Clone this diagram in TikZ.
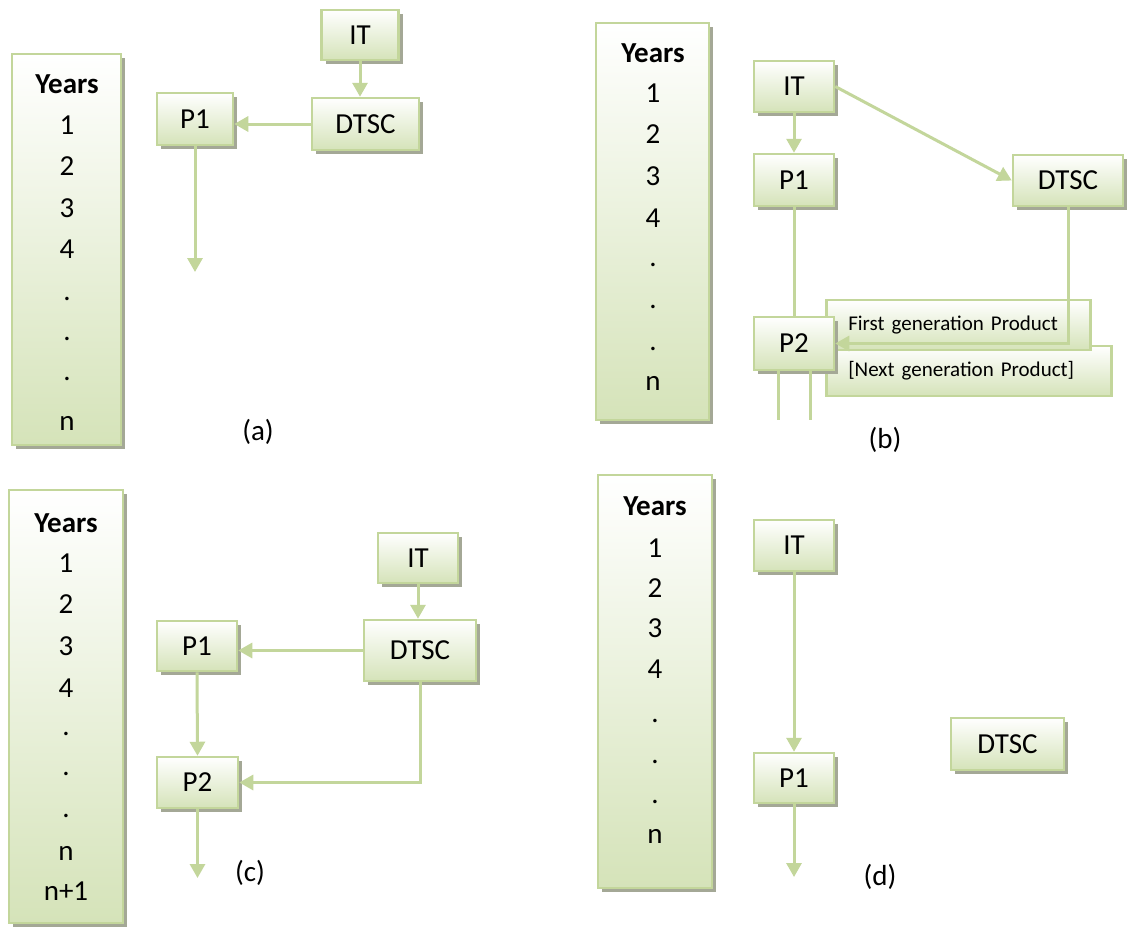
\documentclass[tikz,border=0pt]{standalone}
\usepackage{fontspec}
\setmainfont{Carlito}
\usetikzlibrary{arrows.meta,shadows,calc}
\definecolor{edgegreen}{HTML}{C3D69B}
\definecolor{fillgreen}{HTML}{D5E3B9}
\definecolor{shadowgray}{HTML}{A4A896}
\newcommand\labfont{\fontsize{29}{34}\selectfont}
\newcommand\notefont{\fontsize{21}{25}\selectfont}
\tikzset{
  box/.style={draw=edgegreen, line width=2.5pt, top color=white, bottom color=fillgreen,
    general shadow={fill=shadowgray, shadow xshift=4pt, shadow yshift=-4pt},
    inner sep=0pt, font=\labfont},
  notebox/.style={draw=edgegreen, line width=2.5pt, top color=white, bottom color=fillgreen,
    anchor=west, inner xsep=22pt, inner ysep=0pt, minimum height=50pt, align=left, font=\notefont},
  link/.style={draw=edgegreen, line width=3pt},
  arrow/.style={link, -{Triangle[width=15pt,length=14pt]}},
  yr/.style={anchor=base, font=\labfont, inner sep=0pt},
  panellabel/.style={font=\labfont, inner sep=0pt},
}
\begin{document}
\begin{tikzpicture}[x=1pt,y=-1pt]
\useasboundingbox[fill=white] (0,0) rectangle (1131,926);

% ---------- (a) ----------
\node[box, minimum width=109pt, minimum height=391pt] (a-years) at (66.5,249.5) {};
\node[yr] (a-head) at (67,93) {\bfseries Years};
\foreach \t/\yy [count=\i] in {1/134,2/175,3/217,4/258,./300,./340,./380,n/430}
  \node[yr] (a-row\i) at (67,\yy) {\t};
\node[box, minimum width=77pt, minimum height=50pt] (a-it) at (360,35) {IT};
\node[box, minimum width=107pt, minimum height=52pt] (a-dtsc) at (365.5,124) {DTSC};
\node[box, minimum width=76pt, minimum height=52pt] (a-p1) at (195,119) {P1};
\coordinate (a-end) at (195,272);
\draw[arrow] (a-it.south) -- (a-it.south |- a-dtsc.north);
\draw[arrow] (a-dtsc.west) -- (a-dtsc.west -| a-p1.east);
\draw[arrow] (a-p1.south) -- (a-end);
\node[panellabel] (a-cap) at (258,432) {(a)};

% ---------- (b) ----------
\node[box, minimum width=113pt, minimum height=397pt] (b-years) at (652.5,221.5) {};
\node[yr] (b-head) at (653,62) {\bfseries Years};
\foreach \t/\yy [count=\i] in {1/102,2/143,3/185,4/227,./266,./308,./350,n/390}
  \node[yr] (b-row\i) at (653,\yy) {\t};
\node[box, minimum width=80pt, minimum height=51pt] (b-it) at (794,86.5) {IT};
\node[box, minimum width=80pt, minimum height=52pt] (b-p1) at (794,180) {P1};
\node[box, minimum width=110pt, minimum height=51pt] (b-dtsc) at (1068,180.5) {DTSC};
\node[notebox, text width=241pt] (b-next) at (825,371) {[Next generation Product]};
\node[notebox, text width=220pt] (b-first) at (825,325) {First generation Product};
\node[box, minimum width=80pt, minimum height=53pt] (b-p2) at (794,343.5) {P2};
\coordinate (b-left) at (778,420);
\coordinate (b-right) at (810,420);
\draw[arrow] (b-it.south) -- (b-p1.north);
\draw[arrow] (b-it.east) -- (b-dtsc.west);
\draw[link] (b-p1.south) -- (b-p2.north);
\draw[arrow] (b-dtsc.south) |- (b-p2.east);
\draw[link] (b-p2.south -| b-left) -- (b-left);
\draw[link] (b-p2.south -| b-right) -- (b-right);
\node[panellabel] (b-cap) at (885,440) {(b)};

% ---------- (c) ----------
\node[box, minimum width=114pt, minimum height=433pt] (c-years) at (66,706.5) {};
\node[yr] (c-head) at (66,532) {\bfseries Years};
\foreach \t/\yy [count=\i] in {1/572,2/613,3/655,4/697,./735,./775,./817,n/860,n+1/900}
  \node[yr] (c-row\i) at (66,\yy) {\t};
\node[box, minimum width=80pt, minimum height=50pt] (c-it) at (418,558) {IT};
\node[box, minimum width=112pt, minimum height=61pt] (c-dtsc) at (420,650.5) {DTSC};
\node[box, minimum width=80pt, minimum height=50pt] (c-p1) at (197,646) {P1};
\node[box, minimum width=81pt, minimum height=51pt] (c-p2) at (197.5,782.5) {P2};
\coordinate (c-end) at (197.5,878);
\draw[arrow] (c-it.south) -- (c-it.south |- c-dtsc.north);
\draw[arrow] (c-dtsc.west) -- (c-dtsc.west -| c-p1.east);
\draw[arrow] (c-p1.south) -- (c-p2.north);
\draw[arrow] (c-dtsc.south) |- (c-p2.east);
\draw[arrow] (c-p2.south) -- (c-end);
\node[panellabel] (c-cap) at (250,873) {(c)};

% ---------- (d) ----------
\node[box, minimum width=114pt, minimum height=413pt] (d-years) at (655,681.5) {};
\node[yr] (d-head) at (655,515) {\bfseries Years};
\foreach \t/\yy [count=\i] in {1/557,2/597,3/637,4/678,./722,./763,./803,n/843}
  \node[yr] (d-row\i) at (655,\yy) {\t};
\node[box, minimum width=80pt, minimum height=51pt] (d-it) at (794,545.5) {IT};
\node[box, minimum width=80pt, minimum height=50pt] (d-p1) at (794,778) {P1};
\node[box, minimum width=113pt, minimum height=52pt] (d-dtsc) at (1007.5,744) {DTSC};
\coordinate (d-end) at (794,877);
\draw[arrow] (d-it.south) -- (d-p1.north);
\draw[arrow] (d-p1.south) -- (d-end);
\node[panellabel] (d-cap) at (880,877) {(d)};
\end{tikzpicture}
\end{document}
